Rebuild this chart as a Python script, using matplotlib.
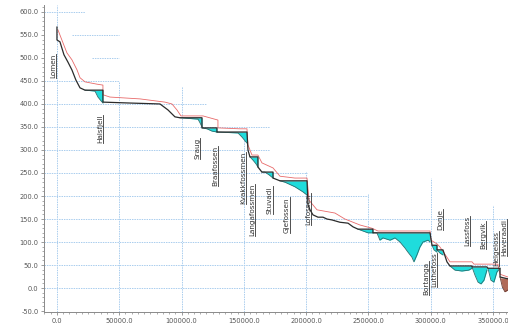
import matplotlib
matplotlib.use("Agg")
import matplotlib.pyplot as plt
from matplotlib.ticker import MultipleLocator, FormatStrFormatter
from matplotlib.lines import Line2D

# Water surface along the river (distance in m, level in m a.s.l.)
surface_x = [0, 0, 2400, 5600, 8800, 12000, 15200, 18500, 22500, 36900, 36900, 58600,
             82700, 89100, 94700, 98700, 116400, 116400, 128400, 128400, 152500, 153300,
             154900, 161300, 161300, 164500, 173400, 173400, 179000, 200700, 201500,
             203100, 205500, 209500, 213500, 216700, 220700, 227100, 233600, 237600,
             241600, 253600, 253600, 299400, 301000, 305000, 305000, 309800, 313000,
             315400, 333100, 333100, 345100, 345900, 355600, 355600, 362000]
surface_y = [567, 539, 535, 507, 491, 474, 452, 435, 430, 430, 404, 402,
             400, 387, 372, 370, 370, 348, 348, 339, 339, 300,
             285, 285, 263, 252, 252, 239, 233, 233, 180,
             170, 159, 154, 154, 150, 148, 143, 141, 133,
             128, 128, 120, 120, 93, 93, 83, 83, 57,
             48, 48, 46, 46, 43, 43, 24, 20]

# Reference (regulated) level line
red_x = [800, 4800, 8000, 12000, 16100, 18500, 22500, 32100, 36900, 36900, 42500, 66600,
         86700, 92300, 96300, 99500, 117200, 129200, 129200, 146900, 152500, 153300,
         156500, 161300, 164500, 173400, 179000, 191000, 200700, 202300, 208700, 223100,
         231100, 243200, 252800, 257600, 299400, 300200, 305000, 307400, 313000, 315400,
         333100, 334700, 353900, 355600, 362000]
red_y = [561, 533, 511, 496, 474, 457, 448, 443, 441, 420, 415, 411,
         404, 400, 387, 374, 374, 365, 348, 346, 346, 311,
         289, 289, 272, 261, 243, 239, 239, 191, 170, 163,
         150, 137, 130, 124, 124, 104, 96, 89, 67, 57,
         57, 52, 52, 30, 24]

# Reservoirs: bed profile under each impounded stretch and its level
reservoir_levels = [430, 370, 348, 339, 285, 252, 233, 128, 120, 93, 83, 48, 46, 43]
reservoir_bed_x = [
    [22500, 30500, 32900, 35300, 36900],
    [98700, 113200, 114800, 116400],
    [116400, 120400, 124400, 128400],
    [128400, 145300, 148500, 150900, 152500],
    [154900, 157300, 159700, 161300],
    [164500, 166900, 170200, 173400],
    [179000, 183000, 191000, 197400, 200700],
    [241600, 245600, 249600, 253600],
    [253600, 256800, 259200, 261600, 267300, 271300, 275300, 279300, 281700,
     284900, 286500, 288900, 291300, 293700, 297800, 299400],
    [301000, 302600, 305000],
    [305000, 307400, 309800],
    [315400, 319400, 325000, 330500, 333100],
    [333100, 335500, 337900, 340300, 342700, 345100],
    [345900, 348300, 350700, 353100, 355600],
]
reservoir_bed_y = [
    [430, 428, 415, 407, 402],
    [370, 367, 359, 350],
    [348, 346, 341, 339],
    [339, 337, 328, 320, 315],
    [285, 278, 270, 263],
    [252, 252, 246, 239],
    [233, 230, 220, 209, 202],
    [128, 124, 120, 120],
    [120, 120, 104, 109, 104, 109, 100, 87, 78, 67, 57, 72, 89, 100, 104, 100],
    [93, 83, 78],
    [83, 76, 72],
    [48, 39, 37, 39, 43],
    [46, 28, 13, 9, 17, 39],
    [43, 17, 13, 35, 43],
]

# Lowest stretch (outlet basin)
tail_x = [355600, 357500, 359500, 362000]
tail_bed = [24, 2, -8, -4]
tail_level = 22

# Power stations
station_names = ["Lomen", "Halsfjell", "Sraug", "Braafossen", "Kvakkfossmen",
                 "Langafossmen", "Stuvadi", "Gjefossen", "Lofossen", "Bortanga",
                 "Luthefoss", "Donje", "Lassfoss", "Bergvik", "Helgeloss", "Haveraadi"]
station_x = [-3200, 34500, 112400, 126800, 149300, 156500, 170900, 184600, 201500,
             296000, 302600, 307400, 329000, 341900, 352400, 358800]
station_y = [483, 346, 304, 265, 239, 170, 191, 159, 172, 22, 39, 148, 124, 115, 87, 109]

# Reference grid: horizontal lines (level, right end) and vertical lines (position, top)
hgrid_levels = [600, 550, 500, 450, 400, 350, 300, 250, 200, 150, 100, 50, 0]
hgrid_start = [-10400, 12000, 28000, -10400, -10400, -10400, -10400, -10400, -10400,
               -10400, -10400, -10400, -10400]
hgrid_end = [22500, 50000, 50000, 50000, 120000, 171000, 171000, 200700, 250000,
             362000, 362000, 362000, 362000]
vgrid_pos = [0, 50000, 100000, 150000, 200000, 250000, 300000, 350000]
vgrid_top = [615, 450, 440, 340, 255, 205, 240, 180]

fig = plt.figure(figsize=(5.08, 3.24), dpi=100)
ax = fig.add_axes([44 / 508, 12 / 324, 464 / 508, 307 / 324])
ax.set_xlim(-10400, 362000)
ax.set_ylim(-52, 615)

grid_color = "#a9cdee"
for lv, x0, x1 in zip(hgrid_levels, hgrid_start, hgrid_end):
    ax.plot([x0, x1], [lv, lv], color=grid_color, lw=0.7, ls=(0, (1.5, 1.0)), zorder=0.5)
for xv, top in zip(vgrid_pos, vgrid_top):
    ax.plot([xv, xv], [-52, top], color=grid_color, lw=0.7, ls=(0, (1.5, 1.0)), zorder=0.5)

for bx, by, lv in zip(reservoir_bed_x, reservoir_bed_y, reservoir_levels):
    ax.fill_between(bx, by, lv, color="#1fdcdc", lw=0, zorder=2)
    ax.plot(bx, by, color="#2a6f6f", lw=0.6, zorder=3)
ax.fill_between(tail_x, tail_bed, tail_level, color="#b06a58", lw=0, zorder=2)
ax.plot(tail_x, tail_bed, color="#6a3a30", lw=0.6, zorder=3)

ax.plot(red_x, red_y, color="#e86a6a", lw=0.6, zorder=3.5)
ax.plot(surface_x, surface_y, color="#2b2b2b", lw=0.9, zorder=4)

texts = []
for name, sx, sy in zip(station_names, station_x, station_y):
    t = ax.text(sx, sy, name, rotation=90, ha="center", va="center",
                fontsize=5.2, color="#333333", zorder=5)
    texts.append(t)

for s in ["top", "right"]:
    ax.spines[s].set_visible(False)
for s in ["left", "bottom"]:
    ax.spines[s].set_color("#8a8a8a")
    ax.spines[s].set_linewidth(0.7)

ax.xaxis.set_major_locator(MultipleLocator(50000))
ax.xaxis.set_minor_locator(MultipleLocator(5000))
ax.yaxis.set_major_locator(MultipleLocator(50))
ax.yaxis.set_minor_locator(MultipleLocator(10))
ax.xaxis.set_major_formatter(FormatStrFormatter("%.1f"))
ax.yaxis.set_major_formatter(FormatStrFormatter("%.1f"))
ax.tick_params(axis="both", which="major", length=2.5, width=0.6, color="#8a8a8a",
               labelsize=4.8, labelcolor="#555555", pad=1.5)
ax.tick_params(axis="both", which="minor", length=1.3, width=0.5, color="#8a8a8a")

# underline each rotated station name
fig.canvas.draw()
renderer = fig.canvas.get_renderer()
for t in texts:
    bb = t.get_window_extent(renderer)
    xline = (bb.x1 + 0.3) / fig.bbox.width
    fig.add_artist(Line2D([xline, xline], [bb.y0 / fig.bbox.height, bb.y1 / fig.bbox.height],
                          transform=fig.transFigure, color="#333333", lw=0.6))

fig.savefig("out.png", dpi=100)
